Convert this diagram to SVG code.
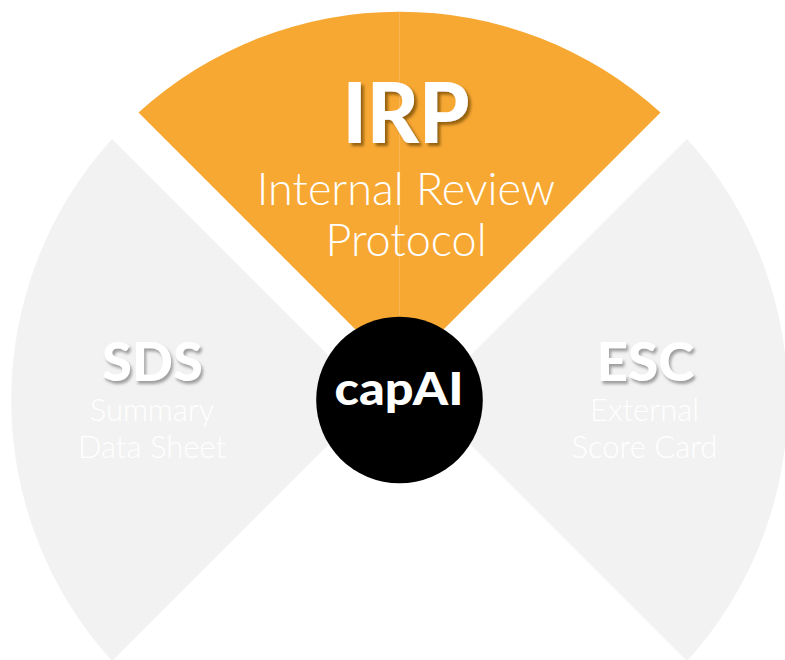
<svg xmlns="http://www.w3.org/2000/svg" width="785" height="660" viewBox="0 0 785 660">
  <defs>
    <style>
      .title { font-family: Lato, "Open Sans", "Liberation Sans", sans-serif; font-weight: 900; fill: #ffffff; text-anchor: middle; }
      .sub { font-family: Lato, "Open Sans", "Liberation Sans", sans-serif; font-weight: 300; fill: #ffffff; text-anchor: middle; }
      .grey { fill: #f2f2f2; }
      .orange { fill: #f7a833; }
    </style>
    <filter id="shOrange" x="-20%" y="-20%" width="150%" height="150%">
      <feDropShadow dx="3" dy="3" stdDeviation="1.5" flood-color="#6b4206" flood-opacity="0.7"/>
    </filter>
    <filter id="shGrey" x="-20%" y="-20%" width="150%" height="150%">
      <feDropShadow dx="2" dy="3" stdDeviation="1.5" flood-color="#7a7a7a" flood-opacity="0.7"/>
    </filter>
  </defs>

  <g id="irp">
    <path class="orange" d="M 399.5 373.5 L 138.5 112.5 A 388.3 388.3 0 0 1 660.5 112.5 Z"/>
    <line x1="399.5" y1="12" x2="399.5" y2="372" stroke="#fbbe66" stroke-width="0.8" opacity="0.8"/>
    <text class="title" x="406" y="143" font-size="84" textLength="127" lengthAdjust="spacingAndGlyphs" filter="url(#shOrange)">IRP</text>
    <text class="sub" x="406" y="205" font-size="45">Internal Review</text>
    <text class="sub" x="406" y="255.5" font-size="45">Protocol</text>
  </g>

  <g id="sds">
    <path class="grey" d="M 373 400 L 112 661 A 388.3 388.3 0 0 1 112 139 Z"/>
    <text class="title" x="152.5" y="381" font-size="53" textLength="101" lengthAdjust="spacingAndGlyphs" filter="url(#shGrey)">SDS</text>
    <text class="sub" x="152" y="421" font-size="31">Summary</text>
    <text class="sub" x="152" y="457.5" font-size="31">Data Sheet</text>
  </g>

  <g id="esc">
    <path class="grey" d="M 426 400 L 687 139 A 388.3 388.3 0 0 1 687 661 Z"/>
    <text class="title" x="645.5" y="381" font-size="53" textLength="98" lengthAdjust="spacingAndGlyphs" filter="url(#shGrey)">ESC</text>
    <text class="sub" x="644.5" y="421" font-size="31">External</text>
    <text class="sub" x="644.5" y="457.5" font-size="31">Score Card</text>
  </g>

  <g id="capai">
    <circle cx="399.5" cy="400" r="83.3" fill="#000000"/>
    <text class="title" x="399" y="405" font-size="45" textLength="129" lengthAdjust="spacingAndGlyphs">capAI</text>
  </g>

  <g id="connectors"></g>
</svg>
